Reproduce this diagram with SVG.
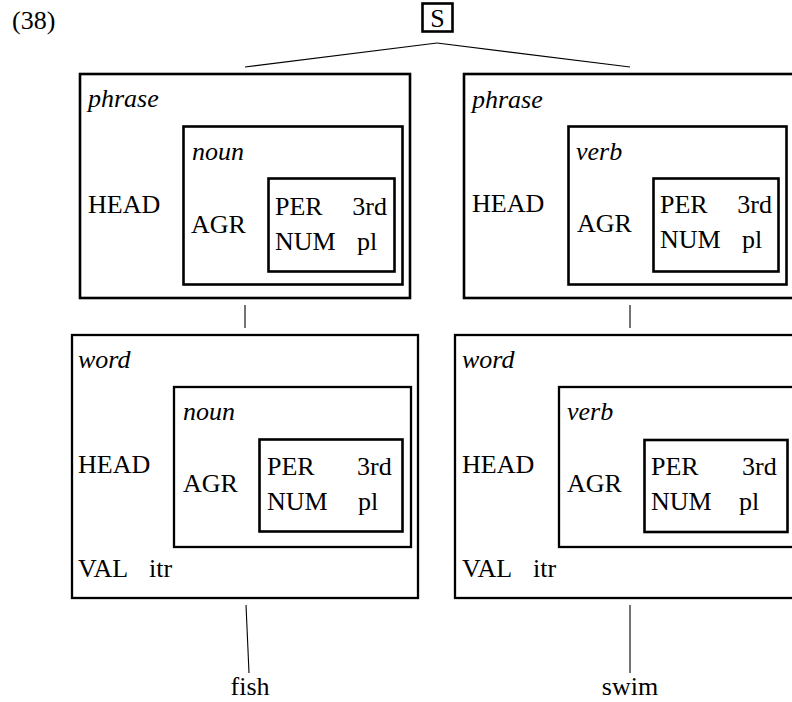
<svg xmlns="http://www.w3.org/2000/svg" width="792" height="702" viewBox="0 0 792 702" font-family="'Liberation Serif', 'DejaVu Serif', 'Noto Serif', 'Times New Roman', Times, serif">
<style>
text{font-family:"Liberation Serif","DejaVu Serif","Noto Serif","Times New Roman",Times,serif;font-size:26px;fill:#000}
.it{font-style:italic}
.box{fill:none;stroke:#000;stroke-width:2.6}
.wbox{fill:none;stroke:#000;stroke-width:2.3}
.edge{fill:none;stroke:#000;stroke-width:1.1}
.e{text-anchor:end}
.m{text-anchor:middle}
</style>
<rect width="792" height="702" fill="#fff"/>
<text x="12" y="29">(38)</text>
<g id="S">
<rect class="box" x="422.5" y="3.5" width="30" height="28"/>
<text class="m" x="437.5" y="27">S</text>
</g>
<g id="connectors">
<line class="edge" x1="437" y1="43" x2="245" y2="67"/>
<line class="edge" x1="437" y1="43" x2="630" y2="67"/>
<line class="edge" x1="245" y1="305" x2="245" y2="328"/>
<line class="edge" x1="630" y1="305" x2="630" y2="328"/>
<line class="edge" x1="246" y1="605" x2="249" y2="673"/>
<line class="edge" x1="630" y1="605" x2="630" y2="673"/>
</g>
<g id="phrase-left">
<rect class="box" x="80" y="74" width="330" height="224"/>
<text class="it" x="88" y="107">phrase</text>
<text x="88" y="213">HEAD</text>
<rect class="box" x="183.5" y="126.5" width="219" height="158"/>
<text class="it" x="192" y="160">noun</text>
<text x="191" y="233">AGR</text>
<rect class="box" x="268.5" y="178.5" width="126" height="93"/>
<text x="275" y="215">PER</text>
<text class="e" x="387" y="215">3rd</text>
<text x="275" y="250">NUM</text>
<text x="357" y="250">pl</text>
</g>
<g id="phrase-right">
<rect class="box" x="464" y="74" width="336" height="224"/>
<text class="it" x="472" y="108">phrase</text>
<text x="472" y="212">HEAD</text>
<rect class="box" x="568.5" y="126.5" width="218" height="158"/>
<text class="it" x="576" y="160">verb</text>
<text x="577" y="232">AGR</text>
<rect class="box" x="653.5" y="178.5" width="125" height="93"/>
<text x="660" y="213">PER</text>
<text class="e" x="772" y="213">3rd</text>
<text x="660" y="248">NUM</text>
<text x="742" y="248">pl</text>
</g>
<g id="word-left">
<rect class="wbox" x="72" y="335" width="346" height="263"/>
<text class="it" x="78" y="368">word</text>
<text x="78" y="473">HEAD</text>
<rect class="wbox" x="174" y="387" width="237" height="160"/>
<text class="it" x="183" y="420">noun</text>
<text x="183" y="492">AGR</text>
<rect class="box" x="259.5" y="439.5" width="143" height="92"/>
<text x="267" y="475">PER</text>
<text x="357" y="475">3rd</text>
<text x="267" y="510">NUM</text>
<text x="358" y="510">pl</text>
<text x="78" y="577">VAL</text>
<text x="149" y="577">itr</text>
</g>
<g id="word-right">
<rect class="wbox" x="455" y="335" width="345" height="263"/>
<text class="it" x="462" y="368">word</text>
<text x="462" y="473">HEAD</text>
<rect class="wbox" x="559" y="387" width="240" height="160"/>
<text class="it" x="567" y="420">verb</text>
<text x="567" y="492">AGR</text>
<rect class="box" x="644.5" y="440" width="143" height="92"/>
<text x="651" y="475">PER</text>
<text x="742" y="475">3rd</text>
<text x="651" y="510">NUM</text>
<text x="739" y="510">pl</text>
<text x="462" y="577">VAL</text>
<text x="533" y="577">itr</text>
</g>
<g id="fish"><text class="m" x="250" y="695">fish</text></g>
<g id="swim"><text class="m" x="630" y="695">swim</text></g>
</svg>
